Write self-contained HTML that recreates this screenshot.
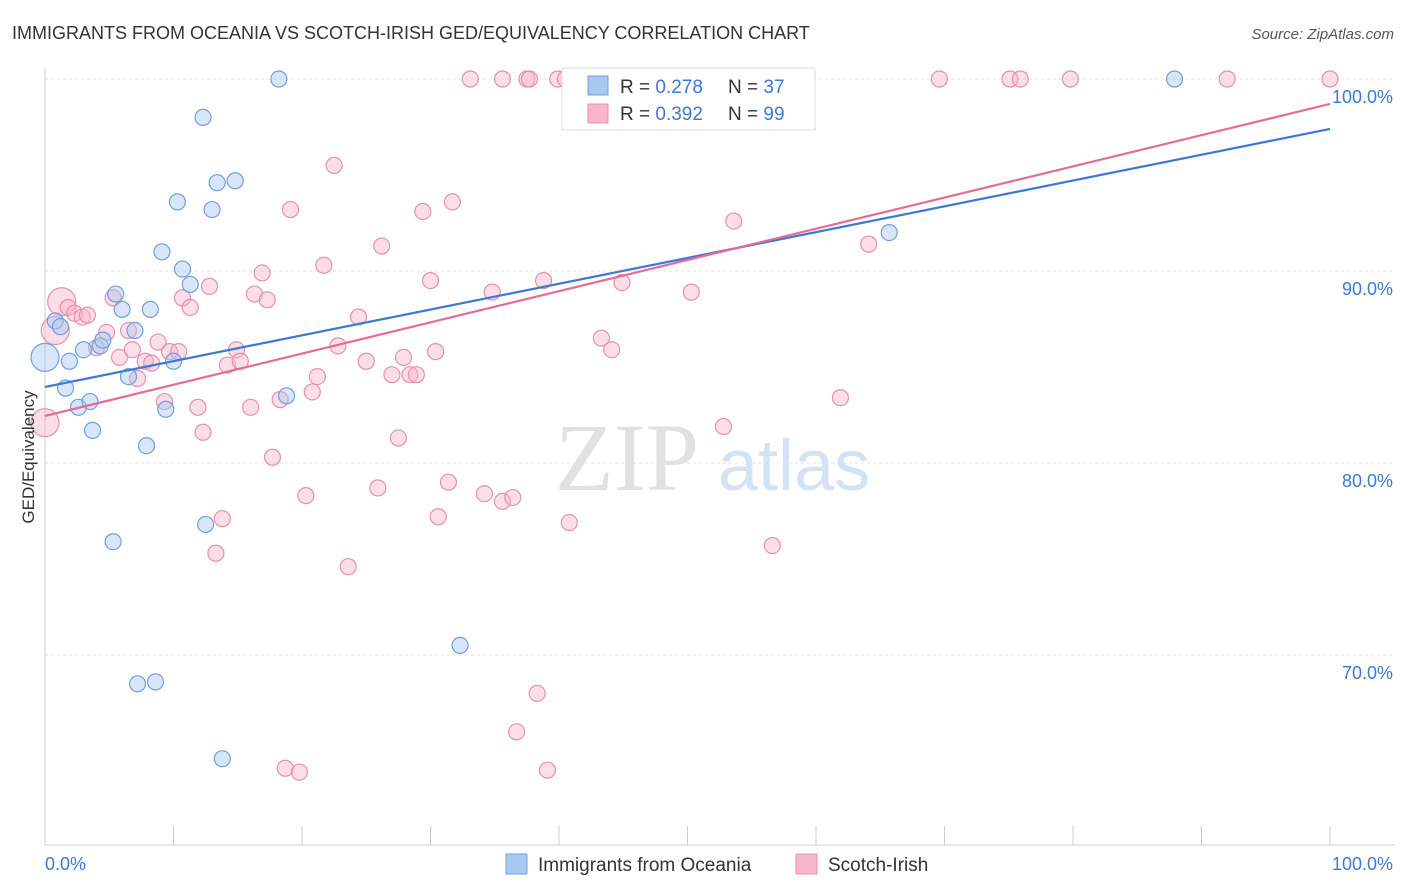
<!DOCTYPE html>
<html><head><meta charset="utf-8"><style>
body{margin:0;background:#fff;font-family:"Liberation Sans",sans-serif;}
svg{display:block}
</style></head><body>
<svg id="chart" width="1406" height="892" xmlns="http://www.w3.org/2000/svg">
<text x="12" y="39" font-size="18" fill="#333">IMMIGRANTS FROM OCEANIA VS SCOTCH-IRISH GED/EQUIVALENCY CORRELATION CHART</text>
<text x="1394" y="39" font-size="15" fill="#555" font-style="italic" text-anchor="end">Source: ZipAtlas.com</text>
<g opacity="0.9">
<text x="555" y="490" font-size="96" font-family="Liberation Serif,serif" fill="#dedede">ZIP</text>
<text x="718" y="490" font-size="72" fill="#cfe0f3">atlas</text>
</g>
<g id="grid"></g>
<g id="axes"></g>
<g id="pts"></g>
<g id="trends"></g>
<text transform="translate(34,457) rotate(-90)" font-size="17" fill="#333" text-anchor="middle">GED/Equivalency</text>
<g>
<rect x="562" y="68" width="253" height="62" fill="#fff" stroke="#ddd"/>
<rect x="588" y="76" width="20" height="19" fill="#a8c8f0" stroke="#6f9fe0"/>
<rect x="588" y="104" width="20" height="19" fill="#f7b6c9" stroke="#e890ab"/>
<text x="620" y="93" font-size="19" fill="#333">R = <tspan fill="#3c78d8">0.278</tspan></text>
<text x="728" y="93" font-size="19" fill="#333">N = <tspan fill="#3c78d8">37</tspan></text>
<text x="620" y="120" font-size="19" fill="#333">R = <tspan fill="#3c78d8">0.392</tspan></text>
<text x="728" y="120" font-size="19" fill="#333">N = <tspan fill="#3c78d8">99</tspan></text>
</g>
<g>
<rect x="506" y="854" width="21" height="20" fill="#a8c8f0" stroke="#6f9fe0"/>
<text x="538" y="871" font-size="19" fill="#333">Immigrants from Oceania</text>
<rect x="796" y="854" width="21" height="20" fill="#f7b6c9" stroke="#e890ab"/>
<text x="828" y="871" font-size="19" fill="#333">Scotch-Irish</text>
</g>
</svg>
<script>
const blueX=[0,0.8,1.2,1.6,1.9,2.6,3.0,3.5,3.7,4.3,4.5,5.3,5.5,6.0,6.5,7.0,7.2,7.9,8.2,8.6,9.1,9.4,10.0,10.3,10.7,11.3,12.3,12.5,13.0,13.4,13.8,14.8,18.2,18.8,32.3,65.7,87.9];
const blueY=[85.5,87.4,87.1,83.9,85.3,82.9,85.9,83.2,81.7,86.1,86.4,75.9,88.8,88.0,84.5,86.9,68.5,80.9,88.0,68.6,91.0,82.8,85.3,93.6,90.1,89.3,98.0,76.8,93.2,94.6,64.6,94.7,100,83.5,70.5,92.0,100];
const pinkX=[0,0.8,1.3,1.8,2.3,2.9,3.3,4.0,4.8,5.3,5.8,6.5,6.8,7.2,7.8,8.3,8.8,9.3,9.7,10.4,10.7,11.3,11.9,12.3,12.8,13.3,13.8,14.2,14.9,15.2,16.0,16.3,16.9,17.3,17.7,18.3,18.7,19.1,19.8,20.3,20.8,21.2,21.7,22.5,22.8,23.6,24.4,25.0,25.9,26.2,27.0,27.5,27.9,28.4,28.9,29.4,30.0,30.4,30.6,31.4,31.7,33.1,34.2,34.8,35.6,35.6,36.4,36.7,37.5,37.7,38.3,38.8,39.1,39.9,40.8,43.3,44.1,44.9,46.9,50.3,51.9,52.8,53.6,56.6,61.9,64.1,69.6,75.1,75.9,79.8,92.0,100,40.5];
const pinkY=[82.1,86.9,88.4,88.1,87.8,87.6,87.7,86.0,86.8,88.6,85.5,86.9,85.9,84.4,85.3,85.2,86.3,83.2,85.8,85.8,88.6,88.1,82.9,81.6,89.2,75.3,77.1,85.1,85.9,85.3,82.9,88.8,89.9,88.5,80.3,83.3,64.1,93.2,63.9,78.3,83.7,84.5,90.3,95.5,86.1,74.6,87.6,85.3,78.7,91.3,84.6,81.3,85.5,84.6,84.6,93.1,89.5,85.8,77.2,79.0,93.6,100,78.4,88.9,100,78.0,78.2,66.0,100,100,68.0,89.5,64.0,100,76.9,86.5,85.9,89.4,100,88.9,100,81.9,92.6,75.7,83.4,91.4,100,100,100,100,100,100,100];
const trendX=[0,100];
const blueTrend=[83.96,97.4];
const pinkTrend=[82.45,98.7];
const yTicks=[100,90,80,70];
const yTickLabels=["100.0%","90.0%","80.0%","70.0%"];
const ns="http://www.w3.org/2000/svg";
const sx=v=>45+v*12.85;
const sy=v=>79+(100-v)*19.2;
function mk(tag,attrs,parent){const e=document.createElementNS(ns,tag);for(const k in attrs)e.setAttribute(k,attrs[k]);parent.appendChild(e);return e;}
const grid=document.getElementById('grid'),axes=document.getElementById('axes'),pts=document.getElementById('pts'),trends=document.getElementById('trends');
yTicks.forEach((t,i)=>{
 const l=mk('line',{x1:45,x2:1395,y1:sy(t),y2:sy(t),stroke:'#e2e2e2','stroke-dasharray':'3,3'},grid);
 
 
 const tx=mk('text',{x:1393,y:sy(t)+24,'font-size':18,fill:'#3c78d8','text-anchor':'end'},axes);
 tx.textContent=yTickLabels[i];
 
 
});
mk('line',{x1:45,x2:45,y1:68,y2:845,stroke:'#ccc'},axes);
mk('line',{x1:45,x2:1395,y1:845,y2:845,stroke:'#ccc'},axes);
for(let i=0;i<=10;i++){const t=mk('line',{x1:sx(i*10),x2:sx(i*10),y1:826,y2:845,stroke:'#ccc'},axes);
 
 }
const xl0=mk('text',{x:45,y:870,'font-size':18,fill:'#3c78d8'},axes);xl0.textContent='0.0%';


const xl1=mk('text',{x:1393,y:870,'font-size':18,fill:'#3c78d8','text-anchor':'end'},axes);xl1.textContent='100.0%';


function drawPts(X,Y,fill,stroke,name,big){X.forEach((x,i)=>{const r=big.includes(i)?14:8;
 const c=mk('circle',{cx:sx(x),cy:sy(Y[i]),r:r,fill:fill,'fill-opacity':0.45,stroke:stroke,'stroke-width':1.2},pts);
 
 });}
drawPts(pinkX,pinkY,'#f7b6c9','#e890ab','scotch-irish-point',[0,1,2]);
drawPts(blueX,blueY,'#a8c8f0','#6f9fe0','oceania-point',[0]);
const bl=mk('line',{x1:sx(trendX[0]),y1:sy(blueTrend[0]),x2:sx(trendX[1]),y2:sy(blueTrend[1]),stroke:'#3c78d8','stroke-width':2.2},trends);


const pl=mk('line',{x1:sx(trendX[0]),y1:sy(pinkTrend[0]),x2:sx(trendX[1]),y2:sy(pinkTrend[1]),stroke:'#e46c96','stroke-width':2.2},trends);


</script>
</body></html>
